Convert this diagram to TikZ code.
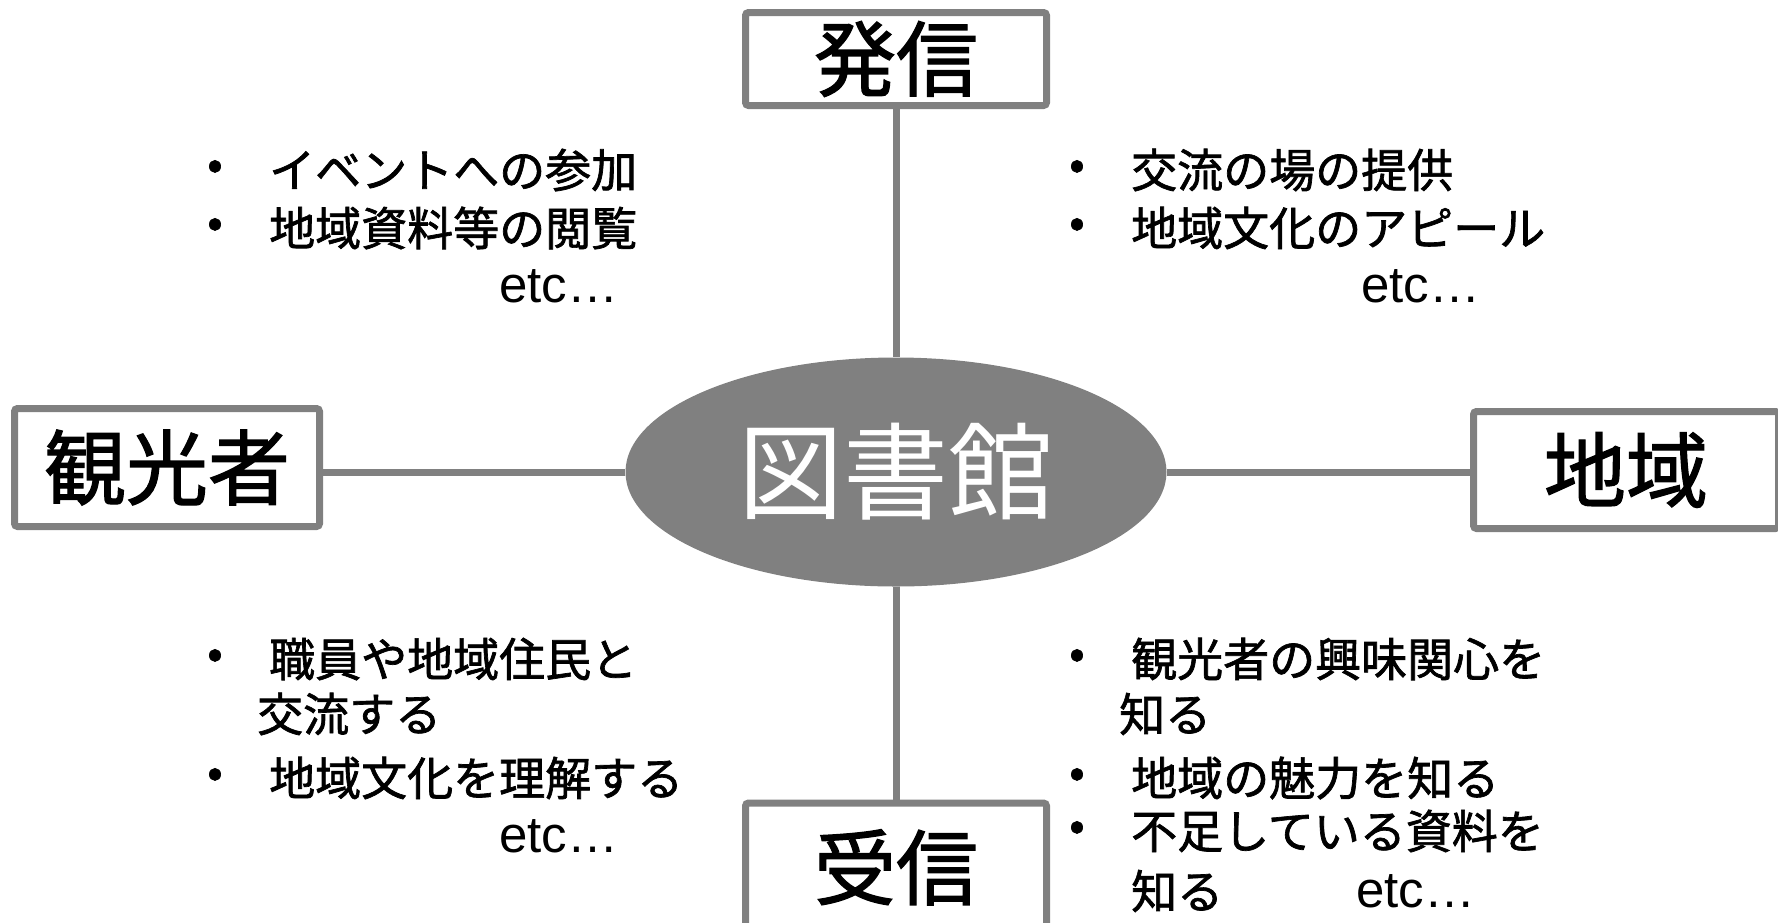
\documentclass[tikz,border=0pt]{standalone}
\usepackage{fontspec}
\usepackage{xcolor}
\usetikzlibrary{shapes.geometric}
\setmainfont[BoldFont={Noto Sans CJK JP}, BoldFeatures={FakeBold=1.5}]{Noto Sans CJK JP}
\newfontfamily\latinfont{Liberation Sans}
\definecolor{boxgray}{RGB}{128,128,128}
\tikzset{
  termbox/.style={draw=boxgray, line width=7pt, rounded corners=3pt, fill=white,
    inner sep=0pt, minimum width=301pt, minimum height=93pt,
    font=\fontsize{82}{90}\selectfont\bfseries},
  linkline/.style={draw=boxgray, line width=7pt},
  itemtext/.style={anchor=west, inner sep=0pt, font=\fontsize{46}{54}\selectfont\bfseries},
  bulletdot/.style={inner sep=0pt, font=\fontsize{45}{54}\selectfont\bfseries}
}

\begin{document}
\begin{tikzpicture}[x=1pt,y=1pt,yscale=-1,xscale=1]
\useasboundingbox (0,0) rectangle (1778,922); %set diagram to 1778 x 922

%Shape: Ellipse
\draw (896,472) node (tosho) [ellipse, fill=boxgray, inner sep=0pt, minimum width=541pt, minimum height=229pt, text=white, font=\fontsize{105}{110}\selectfont] {図書館};
%Shape: Rectangle
\draw (896,59) node (hassin) [termbox] {\raisebox{-3pt}{発信}};
%Shape: Rectangle
\draw (167,467.5) node (kanko) [termbox, minimum width=305pt, minimum height=118pt] {観光者};
%Shape: Rectangle
\draw (1626,470) node (chiiki) [termbox, minimum width=305pt, minimum height=117pt] {地域};
%Shape: Rectangle
\draw (896,868) node (jushin) [termbox, minimum height=130pt] {\raisebox{8pt}{受信}};

%Straight Lines
\draw [linkline] (hassin.south) -- (tosho.north) ;
%Straight Lines
\draw [linkline] (tosho.south) -- (jushin.north) ;
%Straight Lines
\draw [linkline] (tosho.west) -- (tosho.west -| kanko.east) ;
%Straight Lines
\draw [linkline] (tosho.east) -- (tosho.east -| chiiki.west) ;

% Text Node
\draw (215,170) node (tlb1) [bulletdot] {•};
\draw (269,170) node (tl1) [itemtext] {イベントへの参加};
\draw (215,228) node (tlb2) [bulletdot] {•};
\draw (269,228) node (tl2) [itemtext] {地域資料等の閲覧};
\draw (499,286) node (tl3) [itemtext, font=\fontsize{51}{54}\latinfont] {etc…};
% Text Node
\draw (1077,170) node (trb1) [bulletdot] {•};
\draw (1131,170) node (tr1) [itemtext] {交流の場の提供};
\draw (1077,228) node (trb2) [bulletdot] {•};
\draw (1131,228) node (tr2) [itemtext] {地域文化のアピール};
\draw (1361,286) node (tr3) [itemtext, font=\fontsize{51}{54}\latinfont] {etc…};
% Text Node
\draw (215,659) node (blb1) [bulletdot] {•};
\draw (269,659) node (bl1) [itemtext] {職員や地域住民と};
\draw (257,714) node (bl2) [itemtext] {交流する};
\draw (215,778) node (blb2) [bulletdot] {•};
\draw (269,778) node (bl3) [itemtext] {地域文化を理解する};
\draw (499,836) node (bl4) [itemtext, font=\fontsize{51}{54}\latinfont] {etc…};
% Text Node
\draw (1077,659) node (brb1) [bulletdot] {•};
\draw (1131,659) node (br1) [itemtext] {観光者の興味関心を};
\draw (1119,714) node (br2) [itemtext] {知る};
\draw (1077,778) node (brb2) [bulletdot] {•};
\draw (1131,778) node (br3) [itemtext] {地域の魅力を知る};
\draw (1077,831) node (brb3) [bulletdot] {•};
\draw (1131,831) node (br4) [itemtext] {不足している資料を};
\draw (1131,891) node (br5) [itemtext] {知る};
\draw (1356,891) node (br6) [itemtext, font=\fontsize{51}{54}\latinfont] {etc…};
\end{tikzpicture}
\end{document}
